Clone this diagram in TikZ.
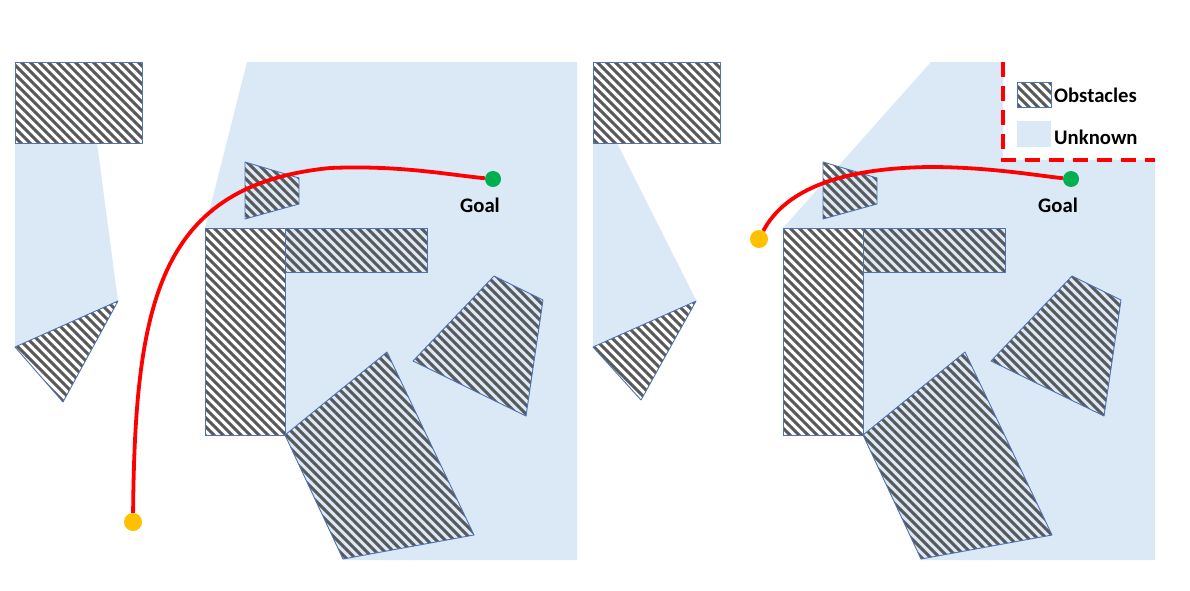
\documentclass[tikz,border=0pt]{standalone}
\usepackage{fontspec}
\setmainfont{Carlito}
\usetikzlibrary{patterns.meta}
\definecolor{unk}{RGB}{219,233,246}
\definecolor{obsline}{RGB}{79,114,180}
\definecolor{hatch}{RGB}{88,88,88}
\definecolor{goalc}{RGB}{0,176,80}
\definecolor{startc}{RGB}{255,192,0}
\tikzset{
  unknown/.style={fill=unk, draw=none},
  obstacle/.style={draw=obsline, line width=0.9pt, line join=round,
    pattern={Lines[angle=-45, distance=6.364pt, line width=3.1pt]}, pattern color=hatch},
  path/.style={draw=red, line width=3.8pt},
  goaldot/.style={circle, fill=goalc, minimum size=16pt, inner sep=0pt},
  startdot/.style={circle, fill=startc, minimum size=18pt, inner sep=0pt},
  lbl/.style={font=\bfseries\fontsize{20.7}{24}\selectfont, inner sep=0pt},
  legendline/.style={draw=red, line width=3.5pt, dash pattern=on 15pt off 9pt}
}
\begin{document}
\begin{tikzpicture}[x=1pt,y=-1pt]
\useasboundingbox (0,0) rectangle (1190,590);
% ---------- left panel ----------
\fill[unknown] (15,143) -- (97,143) -- (118,301) -- (15,347) -- cycle;
\fill[unknown] (247,62) -- (577,62) -- (577,560) -- (343,560) -- (285,435) -- (285,228) -- (205,228) -- cycle;
\path[obstacle] (15,62) rectangle (142,143);
\path[obstacle] (15,347) -- (118,301) -- (63,402) -- cycle;
\path[obstacle] (245,162) -- (299,178) -- (299,204) -- (245,219) -- cycle;
\path[obstacle] (205,228) rectangle (285,435);
\path[obstacle] (285,228) rectangle (427,272);
\path[obstacle] (285,435) -- (387,352) -- (474,535) -- (343,559) -- cycle;
\path[obstacle] (413,361) -- (494,276) -- (543,300) -- (526,416) -- cycle;
\node[startdot] (s1) at (133,522) {};
\node[goaldot] (g1) at (493,179) {};
\node[lbl] (gl1) at (480,205) {Goal};
\draw[path] (s1) .. controls (135,300) and (160,185) .. (330,168)
  .. controls (400,165) and (450,175) .. (g1);
% ---------- right panel ----------
\fill[unknown] (593,143) -- (617,143) -- (696,300) -- (593,347) -- cycle;
\fill[unknown] (931,62) -- (1003,62) -- (1003,160) -- (1155,160) -- (1155,560) -- (921,560) -- (863,435) -- (863,228) -- (783,228) -- cycle;
\path[obstacle] (593,62) rectangle (720,143);
\path[obstacle] (593,347) -- (696,301) -- (641,400) -- cycle;
\path[obstacle] (823,162) -- (877,178) -- (877,204) -- (823,219) -- cycle;
\path[obstacle] (783,228) rectangle (863,435);
\path[obstacle] (863,228) rectangle (1005,272);
\path[obstacle] (863,435) -- (965,352) -- (1052,535) -- (921,559) -- cycle;
\path[obstacle] (991,361) -- (1072,276) -- (1121,300) -- (1104,416) -- cycle;
\node[startdot] (s2) at (759,239) {};
\node[goaldot] (g2) at (1071,179) {};
\node[lbl] (gl2) at (1058,205) {Goal};
\draw[path] (s2) .. controls (785,190) and (840,168) .. (930,167)
  .. controls (990,167) and (1040,176) .. (g2);
% ---------- legend ----------
\coordinate (lt) at (1003,62);
\coordinate (lc) at (1003,160);
\coordinate (lr) at (1155,160);
\draw[legendline] (lt) -- (lc) -- (lr);
\path[obstacle] (1017,82) rectangle (1051,107);
\node[lbl, anchor=west] (lo) at (1054,95) {Obstacles};
\fill[unknown] (1017,121) rectangle (1051,147);
\node[lbl, anchor=west] (lu) at (1054,137) {Unknown};
\end{tikzpicture}
\end{document}
